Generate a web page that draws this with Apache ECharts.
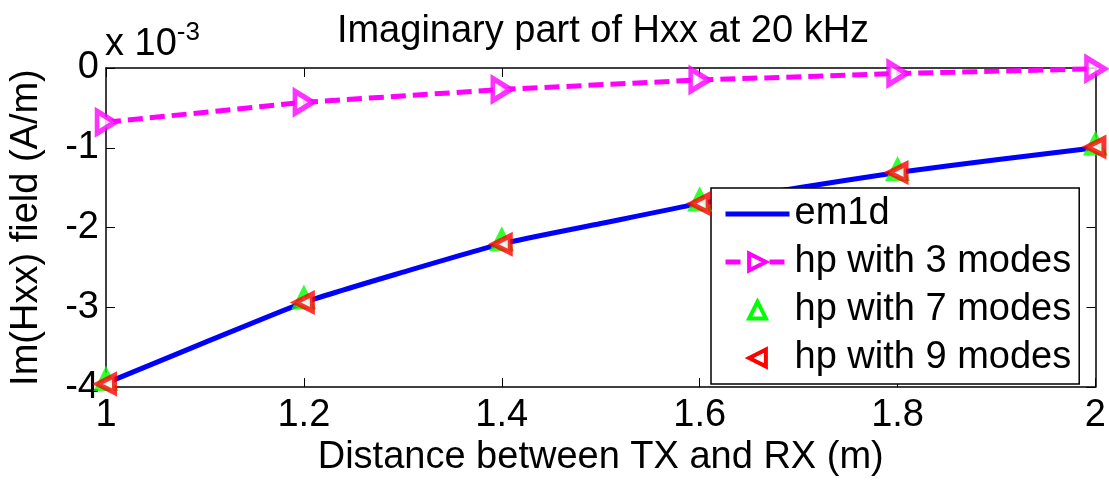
<!DOCTYPE html>
<html>
<head>
<meta charset="utf-8">
<script src="https://cdn.jsdelivr.net/npm/echarts@6/dist/echarts.min.js"></script>
<style>html,body{margin:0;padding:0;background:#fff}#c{width:1109px;height:482px}</style>
</head>
<body>
<div id="c"></div>
<script>
// values in units of 1e-3 A/m
const distEm1d = [1, 1.1, 1.2, 1.3, 1.4, 1.5, 1.6, 1.7, 1.8, 1.9, 2];
const em1d = [-3.95, -3.44, -2.94, -2.56, -2.205, -1.95, -1.70, -1.50, -1.31, -1.15, -1.00];
const dist = [1, 1.2, 1.4, 1.6, 1.8, 2];
const hp3 = [-0.68, -0.43, -0.27, -0.15, -0.07, -0.01];
const hp7 = [-3.91, -2.89, -2.16, -1.66, -1.28, -0.96];
const hp9 = [-3.96, -2.94, -2.21, -1.70, -1.31, -0.99];
const xTicks = [1, 1.2, 1.4, 1.6, 1.8, 2];
const yTicks = [-4, -3, -2, -1, 0];
const seriesNames = ['em1d', 'hp with 3 modes', 'hp with 7 modes', 'hp with 9 modes'];

const FONT = 'Liberation Sans, Arial, sans-serif';
const FS = 38;
const pair = (xs, ys) => xs.map((x, i) => [x, ys[i]]);

const chart = echarts.init(document.getElementById('c'), null, {renderer: 'canvas'});
const axisCommon = {
  axisLine: {show: true, onZero: false, lineStyle: {color: '#000', width: 1.5}},
  axisTick: {show: true, inside: true, length: 9, lineStyle: {color: '#000', width: 1}},
  splitLine: {show: false}
};
// line series used for legend entries (markers are drawn by scatter series below)
function legendLine(name, color, rotate) {
  return {
    name: name, type: 'line', data: [], symbol: 'triangle', symbolRotate: rotate,
    symbolSize: 17, showSymbol: false,
    lineStyle: {color: color, width: 0, opacity: 0},
    itemStyle: {color: '#ffffff', borderColor: color, borderWidth: 4}
  };
}
chart.setOption({
  animation: false,
  backgroundColor: '#fff',
  title: {
    text: 'Imaginary part of Hxx at 20 kHz',
    left: 598, top: 8, textAlign: 'center',
    textStyle: {fontFamily: FONT, fontSize: FS, fontWeight: 'normal', color: '#000'}
  },
  grid: {left: 104, right: 12, top: 68, bottom: 88, containLabel: false},
  legend: {
    orient: 'vertical', left: 711, top: 188,
    data: [
      {name: seriesNames[0], itemStyle: {opacity: 0}, lineStyle: {width: 5}},
      {name: seriesNames[1], lineStyle: {width: 5}, itemStyle: {borderWidth: 4}},
      {name: seriesNames[2], lineStyle: {opacity: 0, width: 0}, itemStyle: {borderWidth: 4}},
      {name: seriesNames[3], lineStyle: {opacity: 0, width: 0}, itemStyle: {borderWidth: 4}}
    ],
    itemWidth: 64, itemHeight: 21, itemGap: 6,
    itemTextGap: 8,
    symbolRotate: 'inherit',
    padding: [5, 8, 5, 12],
    backgroundColor: '#fff', borderColor: '#000', borderWidth: 1.5,
    textStyle: {fontFamily: FONT, fontSize: FS, color: '#000', lineHeight: 42},
    selectedMode: false
  },
  xAxis: [
    Object.assign({}, axisCommon, {
      type: 'value', min: xTicks[0], max: xTicks[xTicks.length - 1], interval: 0.2,
      position: 'bottom',
      axisLabel: {fontFamily: FONT, fontSize: FS, color: '#000', margin: 9,
        formatter: v => String(Math.round(v * 10) / 10)},
      name: 'Distance between TX and RX (m)', nameLocation: 'middle', nameGap: 44,
      nameTextStyle: {fontFamily: FONT, fontSize: FS, color: '#000'}
    }),
    Object.assign({}, axisCommon, {
      type: 'value', min: xTicks[0], max: xTicks[xTicks.length - 1], interval: 0.2,
      position: 'top', axisLabel: {show: false}
    })
  ],
  yAxis: [
    Object.assign({}, axisCommon, {
      type: 'value', min: yTicks[0], max: yTicks[yTicks.length - 1], interval: 1,
      position: 'left',
      axisLabel: {fontFamily: FONT, fontSize: FS, color: '#000', margin: 7},
      name: 'Im(Hxx) field (A/m)', nameLocation: 'middle', nameGap: 60,
      nameTextStyle: {fontFamily: FONT, fontSize: FS, color: '#000'}
    }),
    Object.assign({}, axisCommon, {
      type: 'value', min: yTicks[0], max: yTicks[yTicks.length - 1], interval: 1,
      position: 'right', axisLabel: {show: false}
    })
  ],
  graphic: [{
    type: 'text', left: 105, top: 20, z: 100,
    style: {
      text: '{a|x 10}{b|-3}',
      rich: {
        a: {fontFamily: FONT, fontSize: FS, fill: '#000', verticalAlign: 'bottom', lineHeight: 44},
        b: {fontFamily: FONT, fontSize: 26, fill: '#000', verticalAlign: 'top', lineHeight: 44}
      }
    }
  }],
  series: [
    {
      name: seriesNames[0], type: 'line', data: pair(distEm1d, em1d),
      symbol: 'none', smooth: 0.2, clip: false,
      lineStyle: {color: '#0000ff', width: 5},
      itemStyle: {color: '#0000ff'}, z: 2
    },
    {
      name: seriesNames[1], type: 'line', data: pair(dist, hp3),
      symbol: 'triangle', symbolRotate: -90, symbolSize: 20, showSymbol: false,
      clip: false,
      lineStyle: {color: '#ff00ff', width: 5, type: [15, 7]},
      itemStyle: {color: '#ffffff', borderColor: '#ff00ff', borderWidth: 4}, z: 3
    },
    legendLine(seriesNames[2], '#00ff00', 0),
    legendLine(seriesNames[3], '#ff0000', 90),
    {
      name: 'hp3-markers', type: 'scatter', data: pair(dist, hp3),
      symbol: 'triangle', symbolRotate: -90, symbolSize: [22, 18], symbolKeepAspect: false,
      clip: false, silent: true,
      itemStyle: {color: '#ffffff', borderColor: '#ff00ff', borderWidth: 5}, z: 4
    },
    {
      name: 'hp7-markers', type: 'scatter', data: pair(dist, hp7),
      symbol: 'triangle', symbolSize: 17,
      clip: false, silent: true,
      itemStyle: {color: '#ffffff', borderColor: '#00ff00', borderWidth: 5}, z: 5
    },
    {
      name: 'hp9-markers', type: 'scatter', data: pair(dist, hp9),
      symbol: 'triangle', symbolRotate: 90, symbolSize: 17,
      clip: false, silent: true,
      itemStyle: {color: '#ffffff', borderColor: '#ff0000', borderWidth: 5}, z: 6
    }
  ]
});
</script>
</body>
</html>
